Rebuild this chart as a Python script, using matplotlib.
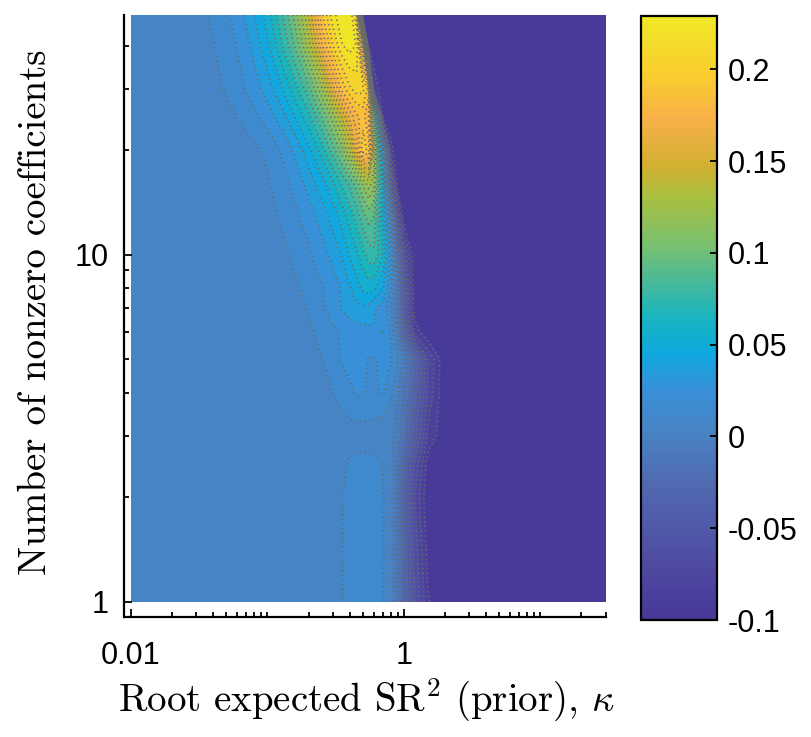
import numpy as np
import matplotlib
matplotlib.use("Agg")
import matplotlib.pyplot as plt
from matplotlib.colors import LinearSegmentedColormap, Normalize
from matplotlib.cm import ScalarMappable
from matplotlib.ticker import FixedLocator, FixedFormatter, NullFormatter

# ---------------- data ----------------
kappa = [0.01, 0.02, 0.03, 0.05, 0.07, 0.1, 0.13, 0.16, 0.2, 0.25, 0.3, 0.35, 0.4,
         0.45, 0.5, 0.55, 0.6, 0.7, 0.8, 0.9, 1.0, 1.2, 1.5, 2.0, 3.0, 30.0]
n_coef = [1, 1.5, 2, 2.5, 3, 3.5, 4, 5, 6, 7, 8, 10, 13, 16, 20, 25, 30, 40, 49]

z_n1 = [0.005]*11 + [0.0095, 0.013, 0.014, 0.0145, 0.0145, 0.014, 0.0105, 0.004, -0.012, -0.03, -0.06, -0.089, -0.1, -0.1, -0.1]
z_n1_5 = [0.005]*11 + [0.0095, 0.013, 0.014, 0.0145, 0.0145, 0.014, 0.0105, 0.004, -0.013, -0.032, -0.065, -0.095, -0.1, -0.1, -0.1]
z_n2 = [0.005]*11 + [0.0095, 0.013, 0.014, 0.0145, 0.0145, 0.014, 0.0105, 0.004, -0.014, -0.035, -0.07, -0.1, -0.1, -0.1, -0.1]
z_n2_5 = [0.005]*11 + [0.007, 0.0115, 0.0125, 0.013, 0.013, 0.0125, 0.0095, 0.003, -0.012, -0.031, -0.062, -0.095, -0.1, -0.1, -0.1]
z_n3 = [0.005]*17 + [0.006, 0.003, -0.006, -0.018, -0.045, -0.082, -0.1, -0.1, -0.1]
z_n3_5 = [0.005]*11 + [0.0095, 0.012, 0.013, 0.013, 0.0125, 0.012, 0.0108, 0.006, -0.004, -0.015, -0.041, -0.078, -0.1, -0.1, -0.1]
z_n4 = [0.005]*10 + [0.0098, 0.014, 0.018, 0.021, 0.021, 0.018, 0.019, 0.021, 0.013, 0.001, -0.012, -0.035, -0.072, -0.1, -0.1, -0.1]
z_n5 = [0.005]*9 + [0.0098, 0.016, 0.021, 0.024, 0.025, 0.024, 0.0195, 0.019, 0.022, 0.021, 0.011, -0.003, -0.031, -0.071, -0.1, -0.1, -0.1]
z_n6 = [0.005]*8 + [0.008, 0.014, 0.018, 0.021, 0.024, 0.026, 0.027, 0.028, 0.029, 0.0305, 0.018, -0.005, -0.035, -0.085, -0.1, -0.1, -0.1, -0.1]
z_n7 = [0.005]*8 + [0.011, 0.018, 0.024, 0.031, 0.035, 0.037, 0.038, 0.036, 0.032, 0.025, 0.012, -0.011, -0.045, -0.095, -0.1, -0.1, -0.1, -0.1]
z_n8 = [0.005]*7 + [0.008, 0.014, 0.019, 0.025, 0.031, 0.039, 0.046, 0.052, 0.055, 0.052, 0.041, 0.021, -0.011, -0.045, -0.1, -0.1, -0.1, -0.1, -0.1]
z_n10 = [0.005]*6 + [0.008, 0.013, 0.018, 0.026, 0.033, 0.041, 0.051, 0.058, 0.067, 0.075, 0.078, 0.061, 0.025, -0.021, -0.061, -0.1, -0.1, -0.1, -0.1, -0.1]
z_n13 = [0.005]*5 + [0.0065, 0.012, 0.018, 0.025, 0.035, 0.045, 0.055, 0.065, 0.075, 0.087, 0.095, 0.091, 0.051, 0.001, -0.061, -0.1, -0.1, -0.1, -0.1, -0.1, -0.1]
z_n16 = [0.005]*5 + [0.009, 0.016, 0.024, 0.034, 0.046, 0.058, 0.071, 0.082, 0.095, 0.111, 0.125, 0.115, 0.051, -0.041, -0.1, -0.1, -0.1, -0.1, -0.1, -0.1, -0.1]
z_n20 = [0.005]*4 + [0.006, 0.012, 0.022, 0.033, 0.047, 0.065, 0.085, 0.105, 0.131, 0.161, 0.198, 0.185, 0.129, 0.021, -0.085, -0.1, -0.1, -0.1, -0.1, -0.1, -0.1, -0.1]
z_n25 = [0.005]*3 + [0.007, 0.014, 0.025, 0.037, 0.051, 0.067, 0.091, 0.115, 0.141, 0.163, 0.178, 0.184, 0.171, 0.099, -0.092, -0.1, -0.1, -0.1, -0.1, -0.1, -0.1, -0.1, -0.1]
z_n30 = [0.005]*3 + [0.011, 0.021, 0.035, 0.051, 0.066, 0.087, 0.118, 0.155, 0.183, 0.198, 0.205, 0.203, 0.185, -0.081, -0.1, -0.1, -0.1, -0.1, -0.1, -0.1, -0.1, -0.1, -0.1]
z_n40 = [0.005]*3 + [0.014, 0.027, 0.048, 0.071, 0.092, 0.125, 0.168, 0.199, 0.219, 0.225, 0.219, 0.151] + [-0.1]*11
z_n49 = [0.005, 0.005, 0.006, 0.018, 0.032, 0.055, 0.081, 0.105, 0.141, 0.188, 0.216, 0.228, 0.229, 0.201] + [-0.1]*12

cbar_ticks = [-0.1, -0.05, 0, 0.05, 0.1, 0.15, 0.2]
cbar_labels = ["-0.1", "-0.05", "0", "0.05", "0.1", "0.15", "0.2"]
x_major = [0.01, 1]
x_major_labels = ["0.01", "1"]
y_major = [1, 10]
y_major_labels = ["1", "10"]

Z = np.array([z_n1, z_n1_5, z_n2, z_n2_5, z_n3, z_n3_5, z_n4, z_n5, z_n6, z_n7,
              z_n8, z_n10, z_n13, z_n16, z_n20, z_n25, z_n30, z_n40, z_n49])

# ---------------- style ----------------
plt.rcParams["font.family"] = ["Liberation Sans", "DejaVu Sans"]
plt.rcParams["mathtext.fontset"] = "cm"

cmap = LinearSegmentedColormap.from_list("pic", [
    (0.00, "#463898"), (0.08, "#4E48A0"), (0.15, "#5058A8"), (0.22, "#5068B0"),
    (0.30, "#4A80C0"), (0.38, "#3890D8"), (0.44, "#10A8E0"), (0.50, "#18B4C0"),
    (0.55, "#40B8A0"), (0.62, "#78C070"), (0.70, "#A8C040"), (0.75, "#D0B030"),
    (0.83, "#F8B048"), (0.90, "#F9CC30"), (1.00, "#F0E826")])
vmin, vmax = -0.1, 0.229
norm = Normalize(vmin=vmin, vmax=vmax)

W, H = 811, 737
fig = plt.figure(figsize=(W / 100, H / 100), dpi=100)
ax = fig.add_axes([131 / W, 1 - 601.7 / H, 474.5 / W, 586.7 / H])

levels = np.round(np.arange(-0.1, 0.2301, 0.01), 3)
fill_levels = levels.copy()
fill_levels[0] = -0.1001
ax.contourf(kappa, n_coef, Z, levels=fill_levels, cmap=cmap, norm=norm)
ax.contour(kappa, n_coef, Z, levels=levels[1:], colors="#6a6a6a",
           linewidths=1.2, linestyles=[(0, (0.8, 2.0))])

ax.set_xscale("log")
ax.set_yscale("log")
ax.set_xlim(0.01, 30)
ax.set_ylim(1, 49)

for s in ("top", "right"):
    ax.spines[s].set_visible(False)
ax.spines["left"].set_position(("outward", 5.0))
ax.spines["bottom"].set_position(("outward", 11.0))
ax.spines["left"].set_bounds(0.9035, 49)
ax.spines["bottom"].set_bounds(0.00901, 30.3)
for s in ("left", "bottom"):
    ax.spines[s].set_linewidth(1.6)

x_minor = [m * 10.0 ** e for e in (-2, -1, 0, 1) for m in range(1, 10)
           if 0.01 < m * 10.0 ** e <= 30 and m * 10.0 ** e not in (1.0,)]
y_minor = [m * 10.0 ** e for e in (0, 1) for m in range(2, 10) if m * 10.0 ** e <= 49]
ax.xaxis.set_major_locator(FixedLocator(x_major))
ax.xaxis.set_major_formatter(FixedFormatter(x_major_labels))
ax.xaxis.set_minor_locator(FixedLocator(x_minor))
ax.xaxis.set_minor_formatter(NullFormatter())
ax.yaxis.set_major_locator(FixedLocator(y_major))
ax.yaxis.set_major_formatter(FixedFormatter(y_major_labels))
ax.yaxis.set_minor_locator(FixedLocator(y_minor))
ax.yaxis.set_minor_formatter(NullFormatter())

ax.tick_params(which="both", direction="in", width=1.3, colors="black")
ax.tick_params(which="major", length=5.5, labelsize=22)
ax.tick_params(which="minor", length=3.5)
ax.tick_params(axis="x", which="major", pad=17)
ax.tick_params(axis="y", which="major", pad=11)

fig.text(366 / W, 1 - 700 / H, r"Root expected SR$^2$ (prior), $\kappa$",
         ha="center", va="center", fontsize=28, family="cmr10")
fig.text(36 / W, 1 - 312 / H, "Number of nonzero coefficients",
         ha="center", va="center", rotation=90, fontsize=28, family="cmr10")

# ---------------- colorbar ----------------
cax = fig.add_axes([641 / W, 1 - 620 / H, 76 / W, 604 / H])
sm = ScalarMappable(norm=norm, cmap=cmap)
cb = fig.colorbar(sm, cax=cax, ticks=cbar_ticks)
cb.ax.yaxis.set_major_formatter(FixedFormatter(cbar_labels))
cb.ax.tick_params(direction="in", length=5, width=1.3, labelsize=22, pad=8)
cb.ax.minorticks_off()
cb.outline.set_linewidth(1.6)

fig.savefig("out.png", dpi=100)
